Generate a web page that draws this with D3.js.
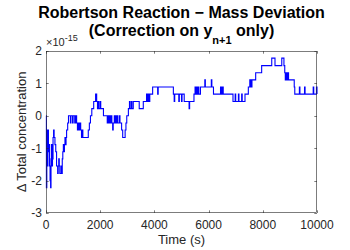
<!DOCTYPE html>
<html><head><meta charset="utf-8">
<script src="https://cdn.jsdelivr.net/npm/d3@7"></script>
<style>body{margin:0;background:#fff}svg{display:block}text{font-family:"Liberation Sans",Arial,sans-serif}</style>
</head><body>
<svg id="c" width="350" height="250"></svg>
<script>
// Data (values in units of 1e-15)
const times = [0,15,30,50,70,90,110,130,150,170,185,200,220,240,260,280,300,330,360,390,410,430,450,470,490,510,540,560,580,600,620,640,660,680,700,720,740,760,780,800,830,
 880,900,920,980,1000,1060,1100,1130,1160,1190,1220,1250,1280,1310,1330,1360,1560,1600,1640,1690,1760,1830,1870,1900,1930,1950,2000,2020,2120,
 2260,2280,2300,2330,2360,2400,2430,2460,2480,2520,2560,2600,2640,2700,2730,2790,2830,2920,2950,2980,3040,3080,3100,3150,3170,3220,3440,3590,
 3710,3750,3780,3800,3830,3935,4120,4140,4700,4730,4750,4900,4920,5000,5020,5100,5280,5300,5460,5500,5520,5560,5580,5620,5640,5700,5860,5880,
 6100,6120,6180,6440,6460,6480,6500,6520,6540,6900,6980,7000,7100,7120,7220,7240,7343,7466,7520,7540,7560,7580,7600,7737,7958,8330,8450,8700,
 8780,8810,8830,8860,8880,8910,8950,9125,9160,9180,9350,9370,9540,9560,9860,9880,9980];
const values = [0,-2.22,-0.44,-1.55,-0.44,-1.11,-0.89,-1.55,-2.0,-2.22,-1.33,-0.89,-1.55,-1.33,-0.67,-0.44,-0.67,-0.89,-1.11,-1.55,-1.55,-1.78,-1.55,-1.33,-1.55,-1.78,-1.78,-1.55,-1.78,-1.33,-1.11,-0.89,-1.11,-0.89,-0.67,-0.89,-0.67,-0.44,-0.44,-0.22,0,
 0,-0.22,0,-0.22,0,-0.22,0,-0.22,-0.44,-0.22,-0.44,-0.22,-0.44,-0.67,-0.44,-0.67,-0.44,-0.22,0,0.22,0.44,0.67,0.44,0.22,0.44,0.22,0.44,0.22,0,
 -0.22,0,-0.22,0,-0.22,0,-0.22,-0.44,-0.22,0,-0.22,0,-0.22,0,-0.22,-0.44,-0.67,-0.44,-0.22,0,0.22,0.44,0.22,0.44,0.22,0.44,0.22,0.44,
 0.67,0.44,0.67,0.44,0.67,0.89,0.67,0.89,0.67,0.44,0.67,0.44,0.67,0.44,0.67,0.44,0.22,0.44,0.67,0.89,0.67,0.89,0.67,0.89,0.67,0.89,1.11,0.89,
 1.11,0.89,0.67,0.89,0.67,0.89,0.67,0.89,0.67,0.44,0.67,0.44,0.67,0.44,0.67,0.44,0.67,0.89,1.11,0.89,1.11,0.89,1.11,1.33,1.55,1.78,1.55,1.78,1.55,
 1.33,1.11,1.33,1.11,1.33,1.11,1.11,0.89,0.67,0.89,0.67,0.89,0.67,0.89,0.67,0.89,0.67];
const endTime = 10000;
const xTicks = [0,2000,4000,6000,8000,10000];
const yTicks = [-3,-2,-1,0,1,2];
const titleLine1 = "Robertson Reaction \u2212 Mass Deviation";
const xLabel = "Time (s)";
const yLabel = "\u0394 Total concentration";

const svg = d3.select("#c");
const L = 46, R = 317, T = 51, B = 213;
const x = d3.scaleLinear().domain([0,10000]).range([L,R]);
const y = d3.scaleLinear().domain([-3,2]).range([B,T]);
const pts = times.map((t,i)=>[t,values[i]]);
pts.push([endTime, values[values.length-1]]);

const tc = "#262626";
// line
svg.append("path").datum(pts)
  .attr("fill","none").attr("stroke","#0000ff").attr("stroke-width",1.1)
  .attr("d", d3.line().x(d=>x(d[0])).y(d=>y(d[1])).curve(d3.curveStepAfter));

// box
svg.append("rect").attr("x",L+0.5).attr("y",T+0.5).attr("width",R-L-1).attr("height",B-T-1)
  .attr("fill","none").attr("stroke",tc).attr("stroke-width",0.6);
// ticks
const tl = 2.7;
const g = svg.append("g").attr("stroke",tc).attr("stroke-width",0.6);
xTicks.forEach(v=>{
  const px = Math.round(x(v))+0.5;
  g.append("line").attr("x1",px).attr("x2",px).attr("y1",B).attr("y2",B-tl);
  g.append("line").attr("x1",px).attr("x2",px).attr("y1",T).attr("y2",T+tl);
});
yTicks.forEach(v=>{
  const py = Math.round(y(v))+0.5;
  g.append("line").attr("x1",L).attr("x2",L+tl).attr("y1",py).attr("y2",py);
  g.append("line").attr("x1",R).attr("x2",R-tl).attr("y1",py).attr("y2",py);
});
// tick labels
svg.selectAll(".xt").data(xTicks).enter().append("text")
  .attr("x",d=>x(d)).attr("y",B+16).attr("text-anchor","middle")
  .attr("font-size",12).attr("fill",tc).text(d=>d);
svg.selectAll(".yt").data(yTicks).enter().append("text")
  .attr("x",L-4).attr("y",d=>y(d)+4.3).attr("text-anchor","end")
  .attr("font-size",12).attr("fill",tc).text(d=>d);
// exponent
const ex = svg.append("text").attr("x",L).attr("y",T-5).attr("font-size",11).attr("fill",tc);
ex.append("tspan").text("\u00d710");
ex.append("tspan").attr("dy",-5).attr("font-size",9).text("-15");
// axis labels
svg.append("text").attr("x",(L+R)/2).attr("y",B+31).attr("text-anchor","middle")
  .attr("font-size",13).attr("fill",tc).text(xLabel);
svg.append("text").attr("transform",`translate(26,${(T+B)/2}) rotate(-90)`)
  .attr("text-anchor","middle").attr("font-size",13).attr("fill",tc).text(yLabel);
// title
svg.append("text").attr("x",(L+R)/2).attr("y",18).attr("text-anchor","middle")
  .attr("font-size",16).attr("font-weight","bold").attr("fill","#000").text(titleLine1);
const t2 = svg.append("text").attr("x",(L+R)/2).attr("y",36).attr("text-anchor","middle")
  .attr("font-size",16).attr("font-weight","bold").attr("fill","#000");
t2.append("tspan").text("(Correction on y");
t2.append("tspan").attr("dy",8).attr("font-size",11).text("n+1");
t2.append("tspan").attr("dy",-8).text(" only)");
</script>
</body></html>
